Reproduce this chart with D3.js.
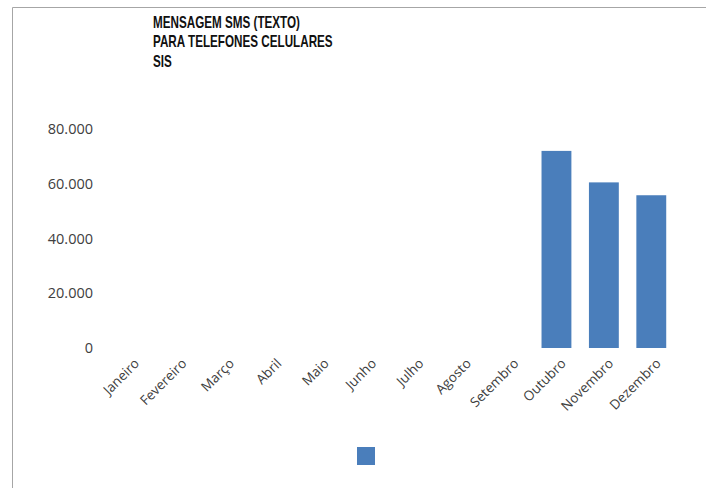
<!DOCTYPE html>
<html><head><meta charset="utf-8">
<script src="https://cdn.jsdelivr.net/npm/d3@7"></script>
<style>
body{margin:0;background:#fff;}
svg{display:block;}
</style></head>
<body>
<svg id="c" width="706" height="488"></svg>
<script>
const months = ["Janeiro","Fevereiro","Março","Abril","Maio","Junho","Julho","Agosto","Setembro","Outubro","Novembro","Dezembro"];
const values = [0,0,0,0,0,0,0,0,0,72000,60500,55800];
const yTicks = [0,20000,40000,60000,80000];
const titleLines = ["MENSAGEM SMS (TEXTO)","PARA TELEFONES CELULARES","SIS"];

const svg = d3.select("#c");
const labelFont = "'Open Sans',sans-serif";

// frame
svg.append("path").attr("d","M12.5,488 L12.5,7.5 L706,7.5")
  .attr("fill","none").attr("stroke","#a6a6a6").attr("stroke-width",1);

const x = d3.scaleBand().domain(months).range([106,675]).paddingInner(0.37).paddingOuter(0.185);
const y = d3.scaleLinear().domain([0,80000]).range([348,129]);

// y axis labels
const fmt = v => v===0 ? "0" : d3.format(",")(v).replace(/,/g,".");
svg.append("g").selectAll("text").data(yTicks).join("text")
  .attr("x",93).attr("y",d=>y(d)).attr("dy","0.35em")
  .attr("text-anchor","end").attr("font-family",labelFont)
  .attr("font-size",14.5).attr("fill","#404040").text(fmt);

// bars
svg.append("g").selectAll("rect").data(months.map((m,i)=>({m,v:values[i]})).filter(d=>d.v>0)).join("rect")
  .attr("x",d=>x(d.m)).attr("width",x.bandwidth())
  .attr("y",d=>y(d.v)).attr("height",d=>y(0)-y(d.v))
  .attr("fill","#4a7ebb");

// x labels
svg.append("g").selectAll("text").data(months).join("text")
  .attr("transform",d=>`translate(${x(d)+x.bandwidth()/2+7},${361}) rotate(-45)`)
  .attr("text-anchor","end").attr("dy","0.35em")
  .attr("font-family",labelFont).attr("font-size",13.5)
  .attr("fill","#404040").text(d=>d);

// title (condensed bold)
svg.append("g").attr("transform","translate(153,0) scale(0.73,1)")
  .selectAll("text").data(titleLines).join("text")
  .attr("x",0).attr("y",(d,i)=>22+i*19.5).attr("dy","0.35em")
  .attr("font-family","'Liberation Sans',Arial,sans-serif").attr("font-weight","bold").attr("font-size",16)
  .attr("fill","#111").text(d=>d);

// legend
svg.append("rect").attr("x",357).attr("y",447).attr("width",18).attr("height",18).attr("fill","#4a7ebb");
</script>
</body></html>
